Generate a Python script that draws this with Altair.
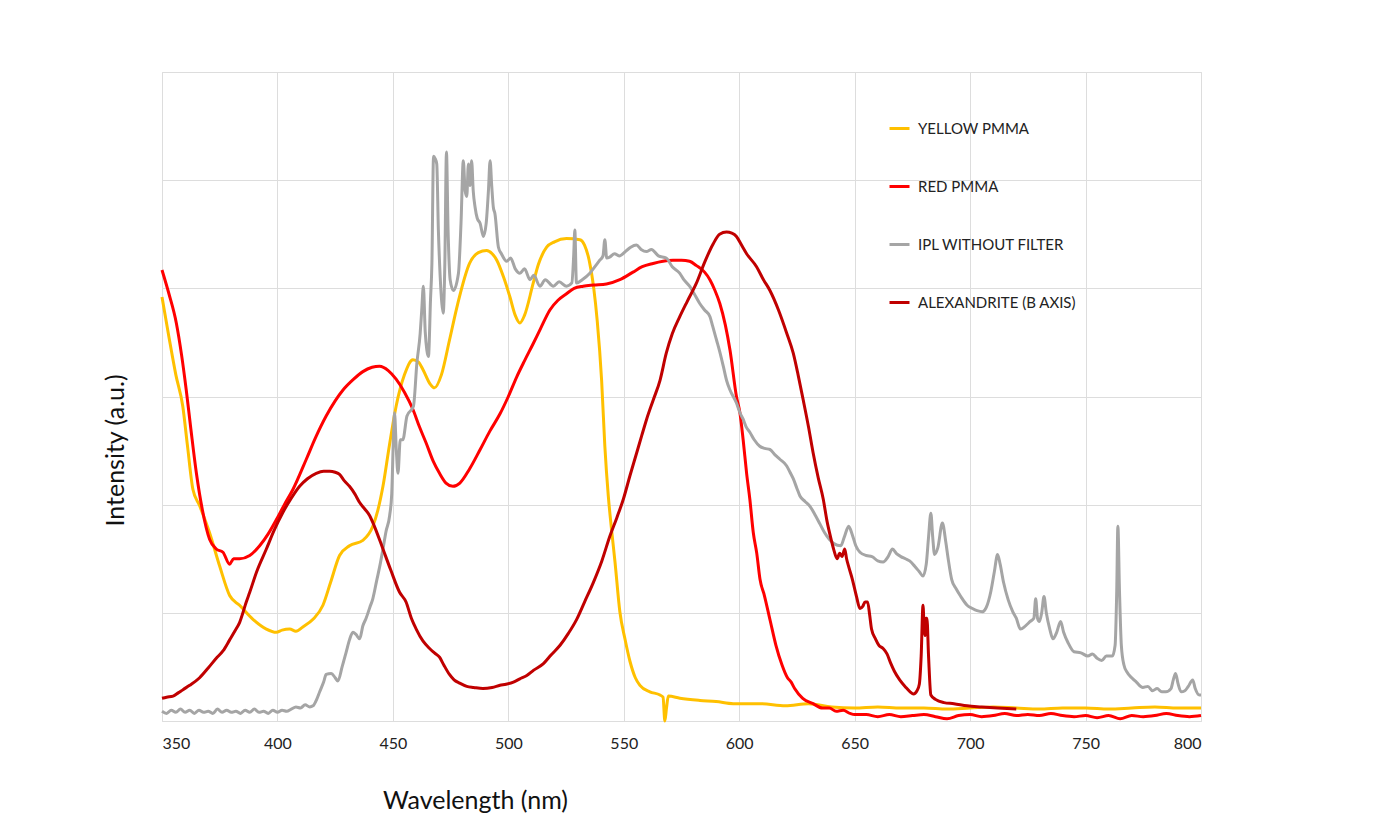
import altair as alt
import pandas as pd

# ---- data ----
yellow_nm = [350, 353, 356, 359, 361, 363.4, 366.3, 370.6, 375, 379.3, 383.6, 389.4, 395.2, 399.5, 402, 405.3, 408, 411,
             415.4, 419.7, 423, 426.9, 431.2, 437, 441.3, 443.5, 445.7, 448.5, 451.4, 455, 458.7, 461, 463, 466, 468, 471,
             474.5, 478, 483.2, 487, 490.6, 493, 495, 498, 500.7, 503, 505, 507, 510.8, 513, 516.6, 520, 525.2, 531, 533,
             535, 537, 538.5, 540.4, 541.8, 543.3, 544.7, 546.2, 548.3, 550.5, 552.7, 555, 557, 561.3, 565.7, 567, 567.8,
             568.5, 569.3, 574.3, 583, 590, 597.4, 609, 620, 630, 640, 650, 660, 670, 680, 690, 700, 710, 720, 730, 740,
             750, 760, 770, 780, 790, 800]
yellow_y = [3.92, 3.55, 3.2, 2.91, 2.55, 2.14, 1.99, 1.74, 1.43, 1.16, 1.07, 0.94, 0.85, 0.82, 0.84, 0.85, 0.83, 0.87,
            0.94, 1.07, 1.28, 1.53, 1.62, 1.67, 1.80, 1.95, 2.17, 2.55, 2.91, 3.2, 3.34, 3.32, 3.25, 3.12, 3.08, 3.2,
            3.52, 3.85, 4.23, 4.33, 4.35, 4.32, 4.26, 4.10, 3.92, 3.75, 3.68, 3.75, 4.05, 4.22, 4.38, 4.43, 4.46, 4.45, 4.40,
            4.26, 4.0, 3.7, 3.15, 2.54, 2.08, 1.77, 1.47, 1.01, 0.76, 0.55, 0.40, 0.33, 0.27, 0.24, 0.22, 0.0,
            0.12, 0.23, 0.21, 0.19, 0.18, 0.16, 0.16, 0.14, 0.16, 0.13, 0.12, 0.13, 0.12, 0.12, 0.11, 0.12, 0.13, 0.12, 0.11, 0.12,
            0.12, 0.11, 0.12, 0.13, 0.12, 0.12]

red_nm = [350, 353, 356.2, 358.5, 360.5, 362.5, 364.9, 367.5, 370.6, 373.5, 376.4, 379.3, 381, 383.6, 388, 392.3, 396,
          399.5, 403, 406.7, 412.5, 416.5, 421.1, 425, 428.4, 433, 437, 441, 444.2, 448, 451.4, 455, 458.7, 461.5, 464.4,
          467.5, 470.2, 473, 476, 479, 483.2, 487.8, 492, 496.4, 500, 503.6, 507, 510.8, 514, 518, 521.5, 525.2, 528.5,
          532.4, 537, 542.5, 548.3, 554, 558, 562.7, 567, 571.3, 575, 578.5, 581.5, 585, 587.3, 589.5, 591.6, 594, 596,
          598.8, 600.3, 601.7, 603.2, 604.6, 606.1, 607.6, 609, 610.9, 613.5, 615.9, 618.5, 620.9, 622.5, 624, 627.5, 632,
          636, 639, 642, 645, 648, 650, 655, 660, 665, 670, 675, 680, 685, 690, 695, 700, 705, 710, 715, 720, 725, 730,
          735, 740, 745, 750, 755, 760, 765, 770, 775, 780, 785, 790, 795, 800]
red_y = [4.17, 3.95, 3.68, 3.38, 3.06, 2.7, 2.29, 1.95, 1.68, 1.59, 1.56, 1.45, 1.5, 1.50, 1.53, 1.62, 1.73,
         1.86, 2.0, 2.14, 2.42, 2.62, 2.82, 2.96, 3.06, 3.16, 3.23, 3.27, 3.28, 3.24, 3.16, 3.04, 2.88, 2.72, 2.57,
         2.40, 2.29, 2.20, 2.17, 2.2, 2.33, 2.51, 2.68, 2.84, 3.0, 3.18, 3.33, 3.49, 3.63, 3.8, 3.89, 3.95, 4.0,
         4.02, 4.03, 4.04, 4.08, 4.15, 4.2, 4.23, 4.25, 4.26, 4.26, 4.25, 4.21, 4.15, 4.08, 3.98, 3.86, 3.66, 3.43,
         3.0, 2.85, 2.6, 2.29, 2.05, 1.74, 1.55, 1.31, 1.16, 0.92, 0.70, 0.52, 0.40, 0.36, 0.30, 0.21, 0.16,
         0.12, 0.12, 0.09, 0.10, 0.07, 0.06, 0.06, 0.04, 0.06, 0.04, 0.05, 0.06, 0.04, 0.02, 0.05, 0.06, 0.04, 0.05, 0.07, 0.05, 0.06, 0.05,
         0.07, 0.05, 0.04, 0.05, 0.03, 0.05, 0.02, 0.05, 0.04, 0.05, 0.07, 0.05, 0.04, 0.05]

ipl_nm = [350, 352, 354, 356, 358, 360, 362, 364, 366, 368, 370, 372, 374, 376, 378, 380, 382, 384, 386, 388, 390, 392,
          394, 396, 398, 400, 402, 404, 406, 408, 410, 412, 414, 415.4, 417, 418.3, 420, 421.1, 423.3, 425, 426.2, 428,
          429.8, 431.2, 432.7, 434, 435.6, 437, 438.4, 440, 441.3, 443, 444.5, 445.7, 447, 448.6, 449.5, 450.2, 450.7,
          451.5, 452.2, 453.2, 454.3, 456.1, 458.9, 460.4, 461.8, 462.5, 463.2, 464, 464.7, 465.4, 466.3, 466.9, 467.6,
          468.3, 469, 469.7, 470.5, 471.2, 471.8, 472.5, 473.2, 473.9, 474.8, 476.2, 478.4, 479.5, 480.5, 481.3, 482,
          482.7, 483.4, 484.1, 484.8, 485.6, 486.5, 487.8, 489.2, 490.4, 491.4, 492.1, 492.8, 493.5, 494.2, 495.7, 497,
          499.3, 501, 503, 505, 507, 509.4, 511, 513.7, 516, 519.5, 522, 525.2, 527.5, 528.3, 528.8, 529.5, 532, 535.3,
          537.5, 539.6, 541, 541.8, 542.6, 544, 546, 548, 551.2, 553, 555.5, 557.5, 559.8, 562, 565, 568.4, 571, 574.2,
          576, 578.5, 580.5, 582.9, 585, 587.3, 588.5, 590.2, 591.5, 593.1, 594.5, 596, 598.8, 600.3, 601.7, 603, 604.6,
          606.5, 608.9, 611, 613.3, 615.5, 617.6, 620.5, 622, 623.4, 625, 626.3, 628.5, 630.8, 633, 635, 637, 639, 641,
          644, 645.5, 647.4, 649, 650.5, 652.3, 655, 657.5, 660, 662.3, 664.5, 666.4, 668, 670, 672, 673.8, 676, 678,
          679.6, 681, 682, 683, 683.8, 684.6, 686, 688, 689.5, 690.5, 692, 694, 696, 698.7, 701, 703, 705.3, 707, 709,
          710.5, 711.9, 713, 714.5, 716.5, 718.5, 720, 721.8, 724, 726, 727.6, 728.4, 729.2, 730, 731, 732, 733, 734.5,
          735.9, 737.5, 739.2, 740.5, 742.5, 745, 748, 751, 753, 755, 757, 759, 761.6, 762.8, 763.5, 764, 764.7, 765.5,
          766.6, 768, 770, 772, 774.8, 777, 779, 781, 783, 784.8, 787, 788, 789, 790, 791.4, 793, 794.5, 796.4, 797.5,
          799.3, 800]
ipl_y = [0.09, 0.07, 0.10, 0.08, 0.11, 0.08, 0.10, 0.07, 0.10, 0.08, 0.09, 0.07, 0.11, 0.08, 0.10, 0.08, 0.09, 0.07,
         0.10, 0.08, 0.11, 0.08, 0.09, 0.07, 0.10, 0.08, 0.10, 0.09, 0.11, 0.13, 0.12, 0.15, 0.13, 0.14, 0.2, 0.27, 0.36,
         0.43, 0.44, 0.40, 0.37, 0.5, 0.64, 0.75, 0.82, 0.80, 0.76, 0.88, 0.95, 1.05, 1.13, 1.3, 1.45, 1.59, 1.75, 1.90,
         2.1, 2.6, 2.85, 2.5, 2.29, 2.6, 2.60, 2.82, 2.91, 3.31, 3.58, 3.8, 4.02, 3.6, 3.43, 3.37, 3.9, 4.23, 5.22, 5.2,
         5.15, 4.54, 4.1, 3.86, 3.77, 4.23, 5.26, 4.54, 4.08, 3.98, 4.14, 4.6, 5.18, 4.9, 4.85, 5.15, 4.95, 5.18, 4.9,
         4.75, 4.65, 4.6, 4.48, 4.6, 4.91, 5.18, 4.95, 4.75, 4.69, 4.38, 4.32, 4.25, 4.28, 4.18, 4.14, 4.18, 4.08, 4.12,
         4.02, 4.08, 4.02, 4.06, 4.02, 4.05, 4.3, 4.54, 4.05, 4.08, 4.14, 4.2, 4.26, 4.3, 4.45, 4.28, 4.29, 4.32, 4.30,
         4.35, 4.38, 4.40, 4.36, 4.34, 4.36, 4.30, 4.28, 4.2, 4.14, 4.08, 4.02, 3.95, 3.86, 3.8, 3.74, 3.65, 3.52, 3.42,
         3.28, 3.15, 3.06, 2.94, 2.85, 2.79, 2.72, 2.67, 2.6, 2.54, 2.52, 2.51, 2.46, 2.42, 2.36, 2.30, 2.24, 2.15, 2.08,
         2.03, 1.98, 1.9, 1.82, 1.74, 1.68, 1.64, 1.62, 1.7, 1.80, 1.72, 1.62, 1.56, 1.53, 1.52, 1.48, 1.47, 1.52, 1.59,
         1.55, 1.52, 1.5, 1.48, 1.43, 1.38, 1.34, 1.45, 1.7, 1.92, 1.7, 1.54, 1.6, 1.83, 1.65, 1.5, 1.31, 1.22, 1.15,
         1.07, 1.04, 1.02, 1.01, 1.05, 1.2, 1.38, 1.54, 1.45, 1.28, 1.12, 1.01, 0.95, 0.85, 0.88, 0.92, 0.95, 1.13, 0.95,
         0.92, 1.0, 1.15, 1.0, 0.85, 0.76, 0.82, 0.92, 0.82, 0.72, 0.64, 0.63, 0.6, 0.62, 0.58, 0.56, 0.6, 0.60, 0.7,
         1.2, 1.80, 1.2, 0.7, 0.52, 0.45, 0.40, 0.36, 0.31, 0.32, 0.28, 0.30, 0.27, 0.27, 0.3, 0.38, 0.44, 0.35, 0.27,
         0.28, 0.32, 0.38, 0.3, 0.24, 0.24]

alex_nm = [350, 352, 354.8, 357, 359.1, 362, 366.3, 370, 373.5, 376.5, 379.3, 381.5, 383.6, 386.5, 388, 391, 395.2,
           398.5, 402.4, 406, 409.6, 413, 416.8, 420, 422.6, 425, 426.9, 429, 431.2, 433.5, 435.6, 437.8, 439.9, 442,
           445.7, 449, 452.9, 455.7, 458, 460.1, 463, 465.9, 468, 470.2, 472, 474.5, 476.5, 478.9, 482, 485, 489, 493,
           496.4, 499, 502.2, 505, 508, 511, 515.2, 518.5, 522.4, 526, 529.6, 533, 536.8, 540.5, 544, 547, 549.8, 552.7,
           555.6, 557.8, 559.9, 562.8, 565.7, 568.4, 571, 574.3, 577.5, 581.5, 585, 588.7, 591.5, 594.5, 596.8, 598.8,
           601, 603.2, 607.5, 610.5, 613.3, 617, 620.5, 623.4, 625.5, 627.7, 630, 632, 634.2, 636.4, 638, 639.8, 641,
           642.4, 643.5, 644.5, 645.7, 646.5, 647.5, 649, 650.8, 652.3, 653.5, 654.5, 655.6, 656.5, 657.3, 659, 660.5,
           662.3, 664, 665.5, 667.2, 669.5, 672.2, 674, 675.5, 677, 678, 678.8, 679.6, 680.1, 680.5, 680.9, 681.3, 682,
           683, 685, 688.7, 693, 698.7, 705, 712, 720]
alex_y = [0.21, 0.22, 0.23, 0.26, 0.29, 0.33, 0.40, 0.49, 0.58, 0.65, 0.75, 0.83, 0.91, 1.10, 1.19, 1.38, 1.59,
          1.76, 1.93, 2.06, 2.17, 2.24, 2.29, 2.31, 2.31, 2.30, 2.28, 2.22, 2.17, 2.10, 2.02, 1.96, 1.90, 1.80,
          1.59, 1.40, 1.19, 1.10, 0.95, 0.85, 0.74, 0.67, 0.63, 0.59, 0.52, 0.43, 0.38, 0.35, 0.32, 0.31, 0.30, 0.31,
          0.33, 0.34, 0.36, 0.39, 0.42, 0.47, 0.53, 0.61, 0.70, 0.81, 0.94, 1.10, 1.28, 1.48, 1.71, 1.88, 2.05, 2.27,
          2.48, 2.64, 2.79, 2.97, 3.15, 3.40, 3.58, 3.74, 3.88, 4.05, 4.24, 4.41, 4.50, 4.52, 4.51, 4.48,
          4.40, 4.32, 4.2, 4.08, 3.98, 3.80, 3.59, 3.40, 3.2, 2.97, 2.72, 2.48, 2.25, 2.05, 1.85, 1.68, 1.58,
          1.50, 1.55, 1.52, 1.59, 1.50, 1.42, 1.31, 1.15, 1.04, 1.06, 1.10, 1.10, 0.98, 0.85, 0.76, 0.70,
          0.67, 0.62, 0.54, 0.46, 0.38, 0.31, 0.27, 0.25, 0.28, 0.34, 0.60, 1.07, 0.85, 0.79, 0.95, 0.95, 0.6,
          0.24, 0.20, 0.17, 0.16, 0.14, 0.13, 0.12, 0.11]

series_names = ["YELLOW PMMA", "RED PMMA", "IPL WITHOUT FILTER", "ALEXANDRITE (B AXIS)"]
series_colors = ["#FFC000", "#FF0000", "#A5A5A5", "#C00000"]
x_ticks = [350, 400, 450, 500, 550, 600, 650, 700, 750, 800]
y_grid = [0, 1, 2, 3, 4, 5, 6]

frames = []
for i, (name, xs, ys) in enumerate(zip(series_names,
                                       [yellow_nm, red_nm, ipl_nm, alex_nm],
                                       [yellow_y, red_y, ipl_y, alex_y])):
    frames.append(pd.DataFrame({"nm": xs, "val": ys, "series": name, "ord": i}))
df = pd.concat(frames, ignore_index=True)

FONT = "Lato"

chart = alt.Chart(df).mark_line(strokeWidth=3, interpolate="monotone").encode(
    x=alt.X("nm:Q",
            scale=alt.Scale(domain=[350, 800], nice=False, zero=False),
            axis=alt.Axis(values=x_ticks, title="Wavelength (nm)", grid=True, ticks=False, domain=False,
                          labelFontSize=16, labelPadding=14, labelColor="#222222", labelFont=FONT,
                          titleFont=FONT, titleFontSize=25, titleFontWeight="normal", titleColor="#111111",
                          titleX=313, titleY=79, titleBaseline="middle", titleAlign="center")),
    y=alt.Y("val:Q",
            scale=alt.Scale(domain=[0, 6], nice=False),
            axis=alt.Axis(values=y_grid, labels=False, ticks=False, domain=False, grid=True,
                          title="Intensity (a.u.)", titleFont=FONT, titleFontSize=25, titleFontWeight="normal",
                          titleColor="#111111", titleAngle=270, titleX=-47, titleY=378,
                          titleBaseline="middle", titleAlign="center")),
    color=alt.Color("series:N",
                    scale=alt.Scale(domain=series_names, range=series_colors),
                    sort=series_names,
                    legend=alt.Legend(title=None, orient="none", legendX=726, legendY=45,
                                      symbolType="stroke", symbolSize=400, symbolStrokeWidth=3,
                                      labelFont=FONT, labelFontSize=15, labelColor="#222222",
                                      labelOffset=7, rowPadding=38, direction="vertical")),
    detail="series:N",
    order=alt.Order("nm:Q"),
).properties(
    width=1039, height=649,
    autosize=alt.AutoSizeParams(type="none"),
    padding={"left": 154, "top": 64, "right": 173, "bottom": 107},
).configure_axis(
    gridColor="#e0e0e0", gridWidth=1
).configure_view(
    stroke=None
).configure(background="white")

chart.save("out.html", embed_options={"renderer": "svg", "actions": False})
